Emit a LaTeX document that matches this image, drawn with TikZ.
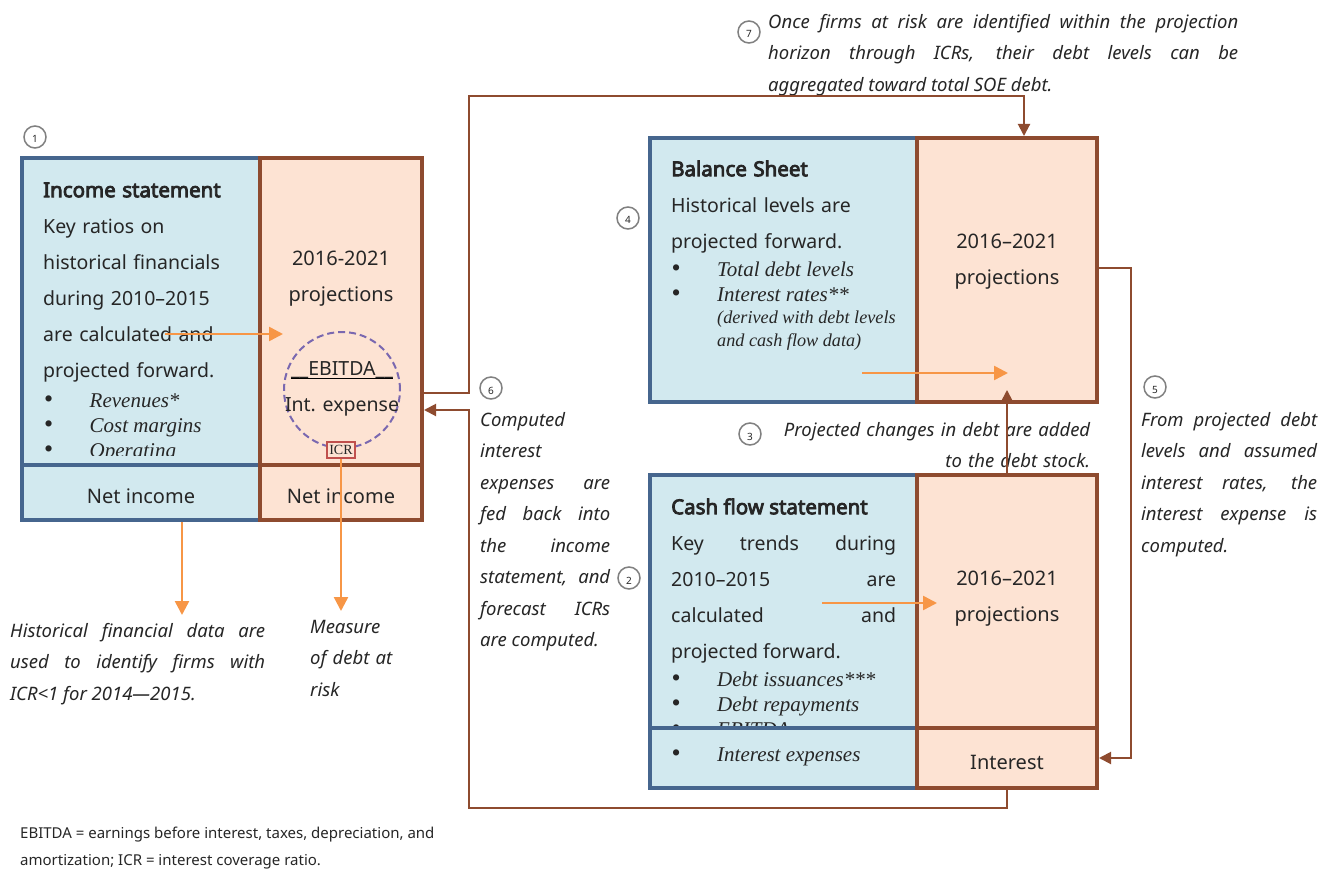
\documentclass[tikz,border=0pt]{standalone}
\usepackage{fontspec}
\setmainfont{Noto Sans}
\newfontfamily\headfont{Noto Sans}[FakeBold=4]
\newfontfamily\tnr{Liberation Serif}
\usetikzlibrary{arrows.meta,positioning}

\definecolor{histfill}{RGB}{210,233,239}
\definecolor{histdraw}{RGB}{70,102,142}
\definecolor{projfill}{RGB}{253,227,211}
\definecolor{projdraw}{RGB}{142,75,47}
\definecolor{flow}{RGB}{247,150,70}
\definecolor{ratio}{RGB}{122,104,176}
\definecolor{icrred}{RGB}{192,80,77}
\definecolor{ink}{RGB}{38,38,38}

\newcommand{\itm}[1]{\makebox[45.5pt][l]{\upshape\fontsize{26}{25}\selectfont\textbullet}#1}
\newcommand{\boxhead}[1]{{\headfont\fontsize{20.5}{36}\selectfont #1}}
\newcommand{\low}[1]{\raisebox{-4pt}[\height][\depth]{#1}}

\tikzset{
  histbox/.style={draw=histdraw, fill=histfill, line width=4pt, inner sep=0pt,
    font=\fontsize{20}{24}\selectfont},
  projbox/.style={draw=projdraw, fill=projfill, line width=4pt, inner sep=0pt,
    font=\fontsize{20}{24}\selectfont},
  stepnum/.style={circle, draw=gray, line width=1.5pt, minimum size=22pt,
    inner sep=0pt, font=\fontsize{10}{10}\selectfont},
  body/.style={inner sep=0pt, anchor=north west, align=left,
    font=\fontsize{19.5}{36}\selectfont},
  years/.style={inner sep=0pt, anchor=center, align=center,
    font=\fontsize{20}{36}\selectfont},
  items/.style={inner sep=0pt, anchor=north west, align=left,
    font=\tnr\itshape\fontsize{21}{25}\selectfont},
  note/.style={inner sep=0pt, anchor=north west, align=justify,
    font=\itshape\fontsize{18.5}{31.5}\selectfont},
  linkb/.style={draw=projdraw, line width=2pt, -{Triangle[length=12pt,width=12pt]}},
  linko/.style={draw=flow, line width=2.5pt, -{Triangle[length=14pt,width=14pt]}},
}

\begin{document}
\begin{tikzpicture}[x=1pt, y=-1pt, text=ink]
\useasboundingbox (0,0) rectangle (1320,869);

% Create the historical boxes
\foreach \n/\x/\y/\w/\h/\t in {is-hist/141/311.5/238/307/,
    is-hnet/141/492.5/238/55/\low{Net income},
    bs-hist/783.5/270/267/264/,
    cf-hist/783.5/601.5/267/253/,
    cf-hint/783.5/758/267/60/}
  \node [histbox, minimum width=\w pt, minimum height=\h pt] (\n) at (\x,\y) {\t};

% Create the projection boxes
\foreach \n/\x/\y/\w/\h/\t in {is-proj/341/311.5/162/307/,
    is-pnet/341/492.5/162/55/\low{Net income},
    bs-proj/1007/270/180/264/,
    cf-proj/1007/601.5/180/253/,
    cf-pint/1007/758/180/60/\low{Interest}}
  \node [projbox, minimum width=\w pt, minimum height=\h pt] (\n) at (\x,\y) {\t};

% Income statement
\node [body, text width=215pt] (is-text) at (43,171.8)
  {\strut\boxhead{Income statement}\\Key ratios on\\historical financials\\during 2010–2015\\are calculated and\\projected forward.};
\begin{scope}
  \clip (24,380) rectangle (258,455);
  \node [items] (is-items) at (44,389.5)
    {\strut\itm{Revenues*}\\\itm{Cost margins}\\\itm{Operating}};
\end{scope}
\node [years] (is-years) at (341,276.8) {\strut 2016-2021\\projections\strut};

% The ratio inside the projections
\node [circle, draw=ratio, line width=2pt, dash pattern=on 7pt off 4pt,
  minimum size=116pt] (ratio) at (342,390) {};
\node [inner sep=0pt, anchor=base, font=\fontsize{19.5}{24}\selectfont] (ebitda) at (342,375) {\_\_EBITDA\_\_};
\draw [line width=1pt] ([yshift=-3pt]ebitda.base west) -- ([yshift=-3pt]ebitda.base east);
\node [inner sep=0pt, anchor=base, font=\fontsize{19.5}{24}\selectfont] (intexp) at (342,411) {Int. expense};
\node [draw=icrred, fill=projfill, line width=1.5pt, inner sep=0pt, minimum width=28pt,
  minimum height=16pt, font=\tnr\fontsize{14}{14}\selectfont] (icr) at (341,450) {ICR};

% Balance sheet
\node [body, text width=240pt] (bs-text) at (671,150.8)
  {\strut\boxhead{Balance Sheet}\\Historical levels are\\projected forward.};
\node [items] (bs-items) at (671.5,258.5) {\strut\itm{Total debt levels}\\\itm{Interest rates**}};
\node [items, font=\tnr\itshape\fontsize{18.2}{23}\selectfont] (bs-sub) at (717,306.9)
  {\strut(derived with debt levels\\and cash flow data)};
\node [years] (bs-years) at (1007,258.8) {\strut 2016–2021\\projections\strut};

% Cash flow statement
\node [body, align=justify, text width=225pt] (cf-text) at (671,488.8)
  {\strut\boxhead{Cash flow statement}\\Key trends during\linebreak 2010–2015 are\linebreak calculated and\linebreak projected forward.};
\begin{scope}
  \clip (652,640) rectangle (915,725);
  \node [items] (cf-items) at (671.5,668.5)
    {\strut\itm{Debt issuances***}\\\itm{Debt repayments}\\\itm{EBITDA}};
\end{scope}
\node [items] (cf-int) at (671.5,743.5) {\strut\itm{Interest expenses}};
\node [years] (cf-years) at (1007,595.8) {\strut 2016–2021\\projections\strut};

% Notes
\node [note, text width=470pt] (note7) at (768,6)
  {\strut Once firms at risk are identified within the projection\linebreak horizon through ICRs, their debt levels can be\linebreak aggregated toward total SOE debt.};
\node [note, align=right, text width=310pt] (note3) at (780,414)
  {\strut Projected changes in debt are added\\to the debt stock.};
\node [note, text width=130pt] (note6) at (480,404)
  {\strut Computed\linebreak interest\linebreak expenses are\linebreak fed back into\linebreak the income\linebreak statement, and\linebreak forecast ICRs\linebreak are computed.};
\node [note, text width=176pt] (note5) at (1141,404)
  {\strut From projected debt\linebreak levels and assumed\linebreak interest rates, the\linebreak interest expense is\linebreak computed.};
\node [note, text width=255pt] (note-hist) at (10,615)
  {\strut Historical financial data are\linebreak used to identify firms with\linebreak ICR<1 for 2014—2015.};
\node [note, align=left, text width=100pt] (note-risk) at (310,611)
  {\strut Measure\\of debt at\\risk};
\node [inner sep=0pt, anchor=north west, align=left, font=\fontsize{15}{27}\selectfont] (footnote) at (20,819)
  {\strut EBITDA = earnings before interest, taxes, depreciation, and\\amortization; ICR = interest coverage ratio.};

% Orange arrows
\coordinate (is-from) at (165,334);
\coordinate (bs-from) at (862,373);
\coordinate (cf-from) at (822,603);
\coordinate (hn) at ([xshift=41pt]is-hnet.south);
\draw [linko] (is-from) -- ++(118,0);
\draw [linko] (bs-from) -- ++(146,0);
\draw [linko] (cf-from) -- ++(115,0);
\draw [linko] (hn) -- (hn |- note-hist.north);
\draw [linko] (icr.south) -- (icr.south |- note-risk.north);

% Brown connectors
\coordinate (t6) at (469,393);
\coordinate (t7) at (1024,96);
\coordinate (e6) at (469,410);
\coordinate (b6) at (469,808);
\coordinate (t5) at (1131,268);
\draw [linkb] (t6 -| is-proj.east) -- (t6) |- (t7) -- (t7 |- bs-proj.north);
\draw [linkb] (cf-pint.south) |- (b6) -- (e6) -- (e6 -| is-proj.east);
\draw [linkb] (t5 -| bs-proj.east) -- (t5) |- (cf-pint.east);
\draw [linkb] (cf-proj.north) -- ([yshift=14pt]bs-proj.south);

% Step numbers
\foreach \i/\x/\y in {1/35/137, 2/629/578, 3/750/434, 4/628/218, 5/1155/387, 6/491/388, 7/749/32}
  \node [stepnum] (step-\i) at (\x,\y) {\raisebox{-6pt}[0pt][0pt]{\i}};

\end{tikzpicture}
\end{document}
